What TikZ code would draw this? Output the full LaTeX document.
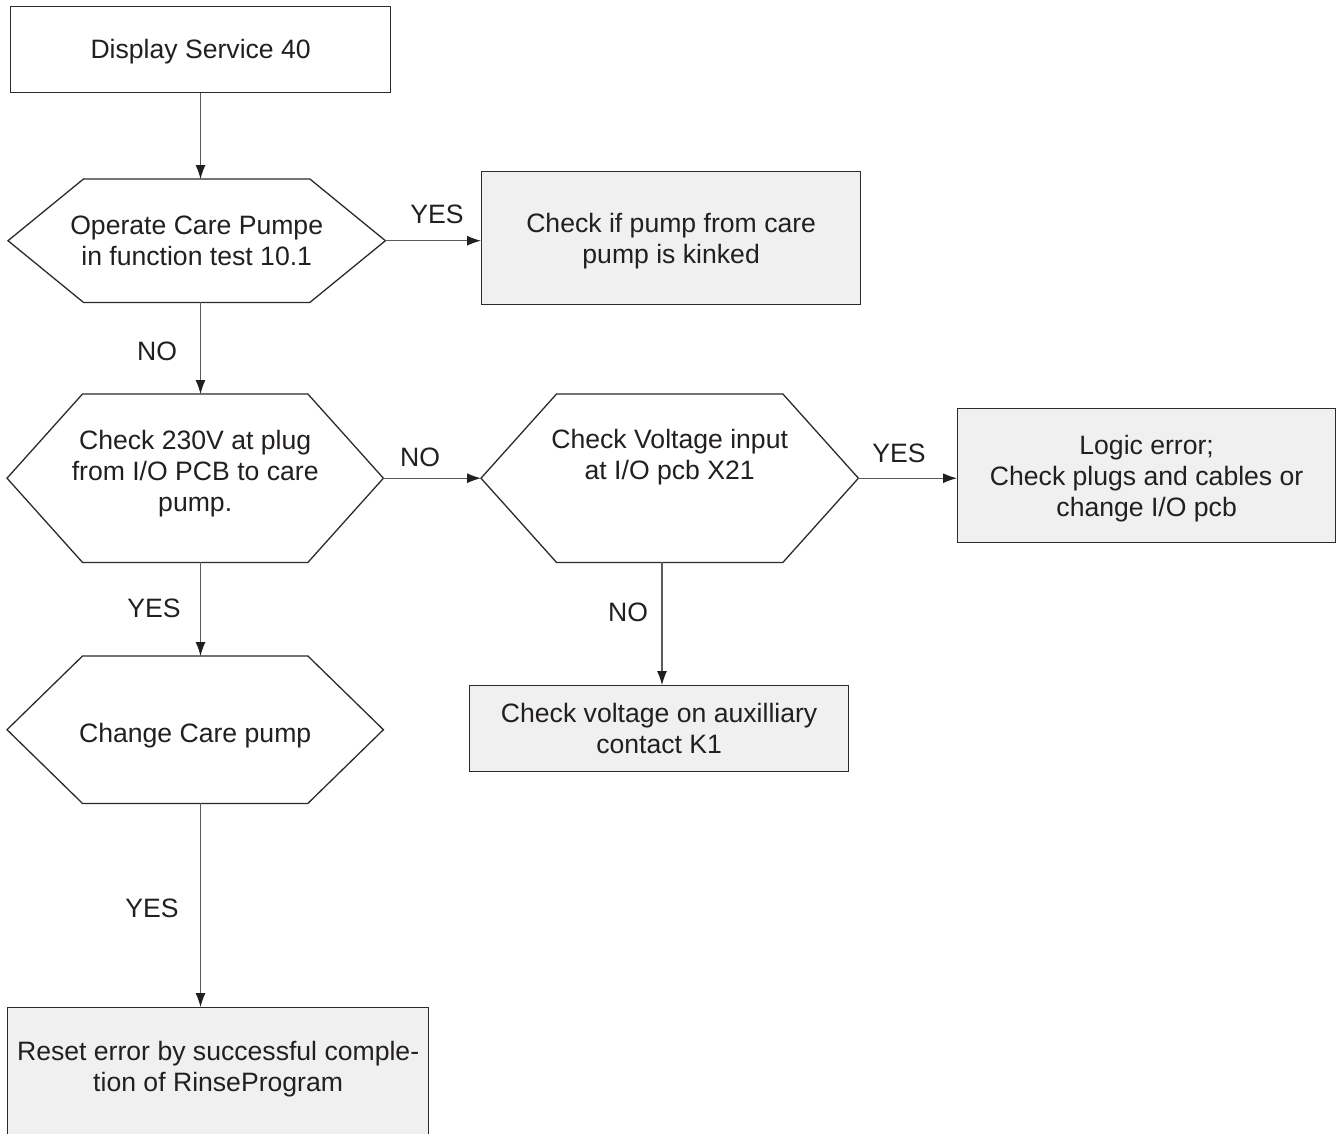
\documentclass[tikz,border=0pt]{standalone}
\usepackage{fontspec}
\setmainfont{Liberation Sans}
\usetikzlibrary{arrows.meta,calc}
\definecolor{txtc}{HTML}{231F20}
\definecolor{linec}{HTML}{2B2B2B}
\definecolor{connc}{HTML}{5A5A5A}
\definecolor{boxgray}{HTML}{F0F0F0}
\newcommand\hexoutline[1]{\draw[hexline] (#1.west) -- ([xshift=75.5pt]#1.north west) -- ([xshift=-75.5pt]#1.north east) -- (#1.east) -- ([xshift=-75.5pt]#1.south east) -- ([xshift=75.5pt]#1.south west) -- cycle;}
\tikzset{
  base/.style={font=\fontsize{26.6}{31}\selectfont, text=txtc, align=center, inner sep=0pt, text depth=0pt, anchor=north west},
  graybox/.style={base, rectangle, draw=linec, line width=1.3pt, fill=boxgray},
  whitebox/.style={base, rectangle, draw=linec, line width=1.3pt, fill=white},
  hexnode/.style={base, rectangle, draw=none},
  hexline/.style={draw=linec, line width=1.3pt, line join=miter},
  conn/.style={draw=connc, line width=1.1pt, -{Latex[length=14pt,width=10pt,color=txtc]}},
  lbl/.style={font=\fontsize{26.6}{31}\selectfont, text=txtc, inner sep=0pt, anchor=base}
}
\begin{document}
\begin{tikzpicture}[x=1pt,y=-1pt]
\useasboundingbox[fill=white] (0,0) rectangle (1340,1133);
\coordinate (col) at (200.5,0);
\coordinate (colk) at (662,0);

\node[whitebox, minimum width=380pt, minimum height=86pt, text depth=2pt] (disp) at (10,6) {Display Service 40};
\node[hexnode, minimum width=377pt, minimum height=123pt] (h1) at (8,179) {Operate Care Pumpe\\in function test 10.1};
\node[graybox, minimum width=379pt, minimum height=133pt] (kink) at (481,171) {Check if pump from care\\pump is kinked};
\node[hexnode, minimum width=376pt, minimum height=168pt, text depth=15pt] (h2) at (7,394) {Check 230V at plug\\from I/O PCB to care\\pump.};
\node[hexnode, minimum width=377pt, minimum height=168pt, text depth=47pt] (h3) at (481,394) {Check Voltage input\\at I/O pcb X21};
\node[graybox, minimum width=378pt, minimum height=134pt] (logic) at (957,408) {Logic error;\\Check plugs and cables or\\change I/O pcb};
\node[graybox, minimum width=379pt, minimum height=86pt] (k1) at (469,685) {Check voltage on auxilliary\\contact K1};
\node[hexnode, minimum width=376pt, minimum height=147pt, text height=25pt] (h4) at (7,656) {Change Care pump};
\node[graybox, minimum width=421pt, minimum height=200pt, text depth=82pt] (reset) at (7,1007) {Reset error by successful comple-\\tion of RinseProgram};

\hexoutline{h1}
\hexoutline{h2}
\hexoutline{h3}
\hexoutline{h4}

\draw[conn] (disp.south -| col) -- (h1.north -| col);
\draw[conn] (h1.east) -- (h1.east -| kink.west);
\draw[conn] (h1.south -| col) -- (h2.north -| col);
\draw[conn] (h2.east) -- (h3.west);
\draw[conn] (h3.east) -- (h3.east -| logic.west);
\draw[conn] (h3.south -| colk) -- (k1.north -| colk);
\draw[conn] (h2.south -| col) -- (h4.north -| col);
\draw[conn] (h4.south -| col) -- (reset.north -| col);

\node[lbl] (l1) at (437,223) {YES};
\node[lbl] (l2) at (157,360) {NO};
\node[lbl] (l3) at (420,466) {NO};
\node[lbl] (l4) at (899,462) {YES};
\node[lbl] (l5) at (628,621) {NO};
\node[lbl] (l6) at (154,617) {YES};
\node[lbl] (l7) at (152,917) {YES};
\end{tikzpicture}
\end{document}
